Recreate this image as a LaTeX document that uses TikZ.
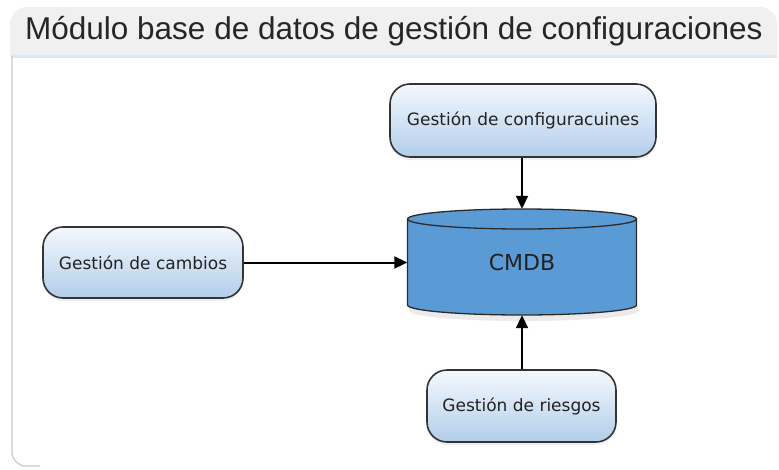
\documentclass[tikz,border=0pt]{standalone}
\usepackage{fontspec}
\setmainfont{Liberation Sans}
\newfontfamily\boxfont{DejaVu Sans}
\usetikzlibrary{arrows.meta,shadows}

\definecolor{panelgrey}{HTML}{F0F0F0}
\definecolor{panelline}{HTML}{DCE8F4}
\definecolor{frameline}{HTML}{C9C9C9}
\definecolor{boxtop}{HTML}{F4F8FD}
\definecolor{boxbottom}{HTML}{B2CEEA}
\definecolor{boxedge}{HTML}{333333}
\definecolor{dbfill}{HTML}{5B9BD5}
\definecolor{dbedge}{HTML}{2B2B2B}
\definecolor{labeltext}{HTML}{222222}

\tikzset{
  procbox/.style={rounded corners=20pt, draw=boxedge, line width=1.6pt,
    top color=boxtop, bottom color=boxbottom, inner sep=0pt,
    font=\boxfont\fontsize{17}{20}\selectfont, text=labeltext,
    drop shadow={opacity=0.12, shadow xshift=0pt, shadow yshift=-3pt}},
  dbarea/.style={inner sep=0pt, font=\boxfont\fontsize{22}{26}\selectfont, text=labeltext},
  flow/.style={line width=2pt, -{Triangle[length=13pt,width=12pt]}}
}

\begin{document}
% y runs downwards here, so arc angles of 90 point down and 270 point up
\begin{tikzpicture}[x=1pt,y=-1pt]
\useasboundingbox (0,0) rectangle (779,469);

% outer panel
\fill[white] (0,0) rectangle (779,469);
\fill[panelgrey] (10,55) -- (10,24) arc[start angle=180,end angle=270,radius=17]
  -- (760,7) arc[start angle=270,end angle=360,radius=17] -- (777,55) -- cycle;
\fill[panelline] (11,55) rectangle (777,58);
\draw[frameline, line width=1.2pt] (12,56) -- (12,452) arc[start angle=180,end angle=90,radius=14] -- (40,466);
\node[anchor=base west, inner sep=0pt, font=\fontsize{31.5}{36}\selectfont, text=black!85]
  (title) at (25,39) {Módulo base de datos de gestión de configuraciones};

% database cylinder
\fill[black, opacity=0.08] (409,306) -- (409,311) arc[start angle=180,end angle=0,x radius=114.5,y radius=10] -- (638,306) -- cycle;
\filldraw[fill=dbfill, draw=dbedge, line width=1.3pt]
  (407.5,219) -- (407.5,305) arc[start angle=180,end angle=0,x radius=114.5,y radius=10]
  -- (636.5,219) arc[start angle=0,end angle=-180,x radius=114.5,y radius=10] -- cycle;
\draw[dbedge, line width=1.3pt] (407.5,219) arc[start angle=180,end angle=0,x radius=114.5,y radius=10];
\node[dbarea, minimum width=229pt, minimum height=106pt] (cmdb) at (522,262) {CMDB};

% process boxes
\node[procbox, minimum width=266pt, minimum height=73pt] (config) at (523,120.5) {Gestión de configuracuines};
\node[procbox, minimum width=200pt, minimum height=71pt] (cambios) at (143,262.5) {Gestión de cambios};
\node[procbox, minimum width=189pt, minimum height=72pt] (riesgos) at (521.5,406) {Gestión de riesgos};

% connectors
\draw[flow] (config.south -| cmdb.north) -- (cmdb.north);
\draw[flow] (cambios.east) -- (cambios.east -| cmdb.west);
\draw[flow] (riesgos.north -| cmdb.south) -- (cmdb.south);
\end{tikzpicture}
\end{document}
